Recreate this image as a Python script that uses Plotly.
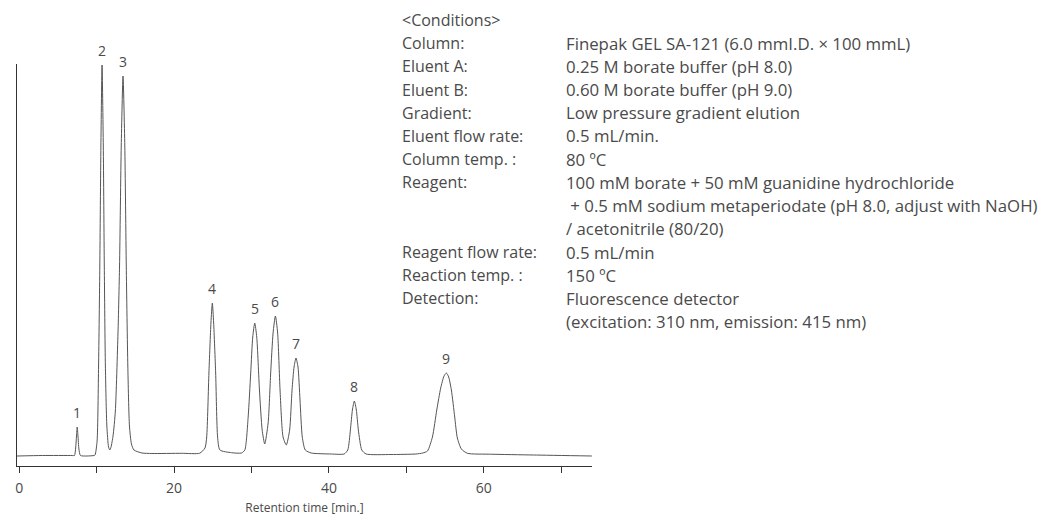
import plotly.graph_objects as go

# chromatogram trace (time in min, signal in arbitrary units)
time_min = [
    -0.3, 2.97, 6.83,
    7.13, 7.28, 7.39, 7.48, 7.58, 7.70, 7.90,
    8.76, 9.67,
    9.79, 10.05, 10.24, 10.40, 10.54, 10.69, 10.85, 10.98, 11.12, 11.31, 11.53, 11.69,
    11.85, 12.11, 12.41, 12.75, 12.95, 13.17, 13.40, 13.63, 13.82, 14.02, 14.23, 14.49, 14.81, 15.85,
    17.13, 20.99, 23.31,
    23.99, 24.21, 24.50, 24.76, 24.94, 25.11, 25.37, 25.62, 25.92, 27.43,
    28.71, 29.14, 29.57, 29.90, 30.16, 30.42, 30.68, 31.03, 31.38, 31.71,
    32.15, 32.48, 32.79, 33.09, 33.38, 33.69, 34.08, 34.50,
    34.93, 35.24, 35.50, 35.75, 36.01, 36.27, 36.56, 36.95, 37.72,
    40.30, 41.97,
    42.44, 42.78, 43.04, 43.29, 43.55, 43.81, 44.25, 44.81,
    48.02, 51.24,
    52.14, 52.74, 53.38, 53.94, 54.45, 54.88, 55.19, 55.48, 55.83, 56.26, 56.60, 57.12, 57.89,
    60.89, 66.42, 73.98,
]
signal = [
    10, 10.5, 10.5,
    10.5, 18, 30, 39, 30, 17, 10.5,
    10, 10.5,
    11, 25, 100, 200, 320, 401, 320, 200, 100, 40, 19, 16,
    19, 30, 55, 133, 200, 320, 390, 320, 200, 100, 40, 22, 16, 13,
    12.5, 12.7, 12.8,
    18, 29, 93, 143, 163, 143, 93, 29, 16, 13.3,
    13, 16, 49, 93, 129, 143, 129, 76, 36, 22,
    43, 93, 133, 150, 133, 76, 29, 21,
    36, 76, 99, 108, 99, 66, 29, 16, 13,
    12, 12,
    16, 36, 56, 65, 56, 36, 16, 12,
    11.5, 12,
    13, 15, 29, 56, 78, 90, 93, 89, 76, 49, 28, 17, 12.7,
    11.8, 11, 10,
]

# peak numbers and their apex
peak_no = ["1", "2", "3", "4", "5", "6", "7", "8", "9"]
peak_time = [7.48, 10.69, 13.40, 24.94, 30.42, 33.09, 35.75, 43.29, 55.19]
peak_top = [39, 401, 390, 163, 143, 150, 108, 65, 93]

tick_vals = [0, 10, 20, 30, 40, 50, 60, 70]
tick_text = ["0", "", "20", "", "40", "", "60", ""]

cond_labels = [
    "&lt;Conditions&gt;", "Column:", "Eluent A:", "Eluent B:", "Gradient:",
    "Eluent flow rate:", "Column temp. :", "Reagent:", "", "",
    "Reagent flow rate:", "Reaction temp. :", "Detection:", "",
]
cond_values = [
    "",
    "Finepak GEL SA-121 (6.0 mmI.D. × 100 mmL)",
    "0.25 M borate buffer (pH 8.0)",
    "0.60 M borate buffer (pH 9.0)",
    "Low pressure gradient elution",
    "0.5 mL/min.",
    "80 ºC",
    "100 mM borate + 50 mM guanidine hydrochloride",
    "&nbsp;+ 0.5 mM sodium metaperiodate (pH 8.0, adjust with NaOH)",
    "/ acetonitrile (80/20)",
    "0.5 mL/min",
    "150 ºC",
    "Fluorescence detector",
    "(excitation: 310 nm, emission: 415 nm)",
]

FONT = "Open Sans"
TXT = "#4a4a4a"

# page has an 8px body margin, so figure pixels = page pixels - 8
OFF = 8
W, H = 1048, 517
L, R, T, B = 15 - OFF, 592 - OFF, 64 - OFF, 466 - OFF

def px_x(px):
    return (px - OFF - L) / (R - L)

def px_y(py):
    return (B - (py - OFF)) / (B - T)

fig = go.Figure()
fig.add_trace(go.Scatter(
    x=time_min, y=signal, mode="lines",
    line=dict(color="#555555", width=1, shape="spline", smoothing=0.6),
    hoverinfo="skip", showlegend=False,
))

for n, t, h in zip(peak_no, peak_time, peak_top):
    fig.add_annotation(x=t, y=h, text=n, showarrow=False, yanchor="bottom",
                       yshift=3, font=dict(family=FONT, size=14, color=TXT))

# conditions block
for i, (lab, val) in enumerate(zip(cond_labels, cond_values)):
    yy = px_y(20 + 23.2 * i)
    if lab:
        fig.add_annotation(xref="paper", yref="paper", x=px_x(399), y=yy, text=lab,
                           showarrow=False, xanchor="left", yanchor="middle",
                           font=dict(family=FONT, size=16, color=TXT))
    if val:
        fig.add_annotation(xref="paper", yref="paper", x=px_x(564), y=yy, text=val,
                           showarrow=False, xanchor="left", yanchor="middle",
                           font=dict(family=FONT, size=16.8, color=TXT))

fig.update_layout(
    width=W, height=H,
    margin=dict(l=L, r=W - R, t=T, b=H - B),
    plot_bgcolor="white", paper_bgcolor="white",
    font=dict(family=FONT, color=TXT),
)
fig.update_xaxes(
    range=[-0.3, 74.0], showgrid=False, zeroline=False,
    showline=True, linecolor="#333333", linewidth=1,
    ticks="outside", ticklen=6, tickcolor="#333333",
    tickmode="array", tickvals=tick_vals, ticktext=tick_text,
    ticklabelstandoff=3,
    tickfont=dict(family=FONT, size=14, color=TXT),
    title=dict(text="Retention time [min.]", font=dict(family=FONT, size=12, color=TXT), standoff=7),
)
fig.update_yaxes(
    range=[0, 402], showgrid=False, zeroline=False,
    showline=True, linecolor="#333333", linewidth=1,
    showticklabels=False, ticks="",
)

fig.write_html("out.html")
